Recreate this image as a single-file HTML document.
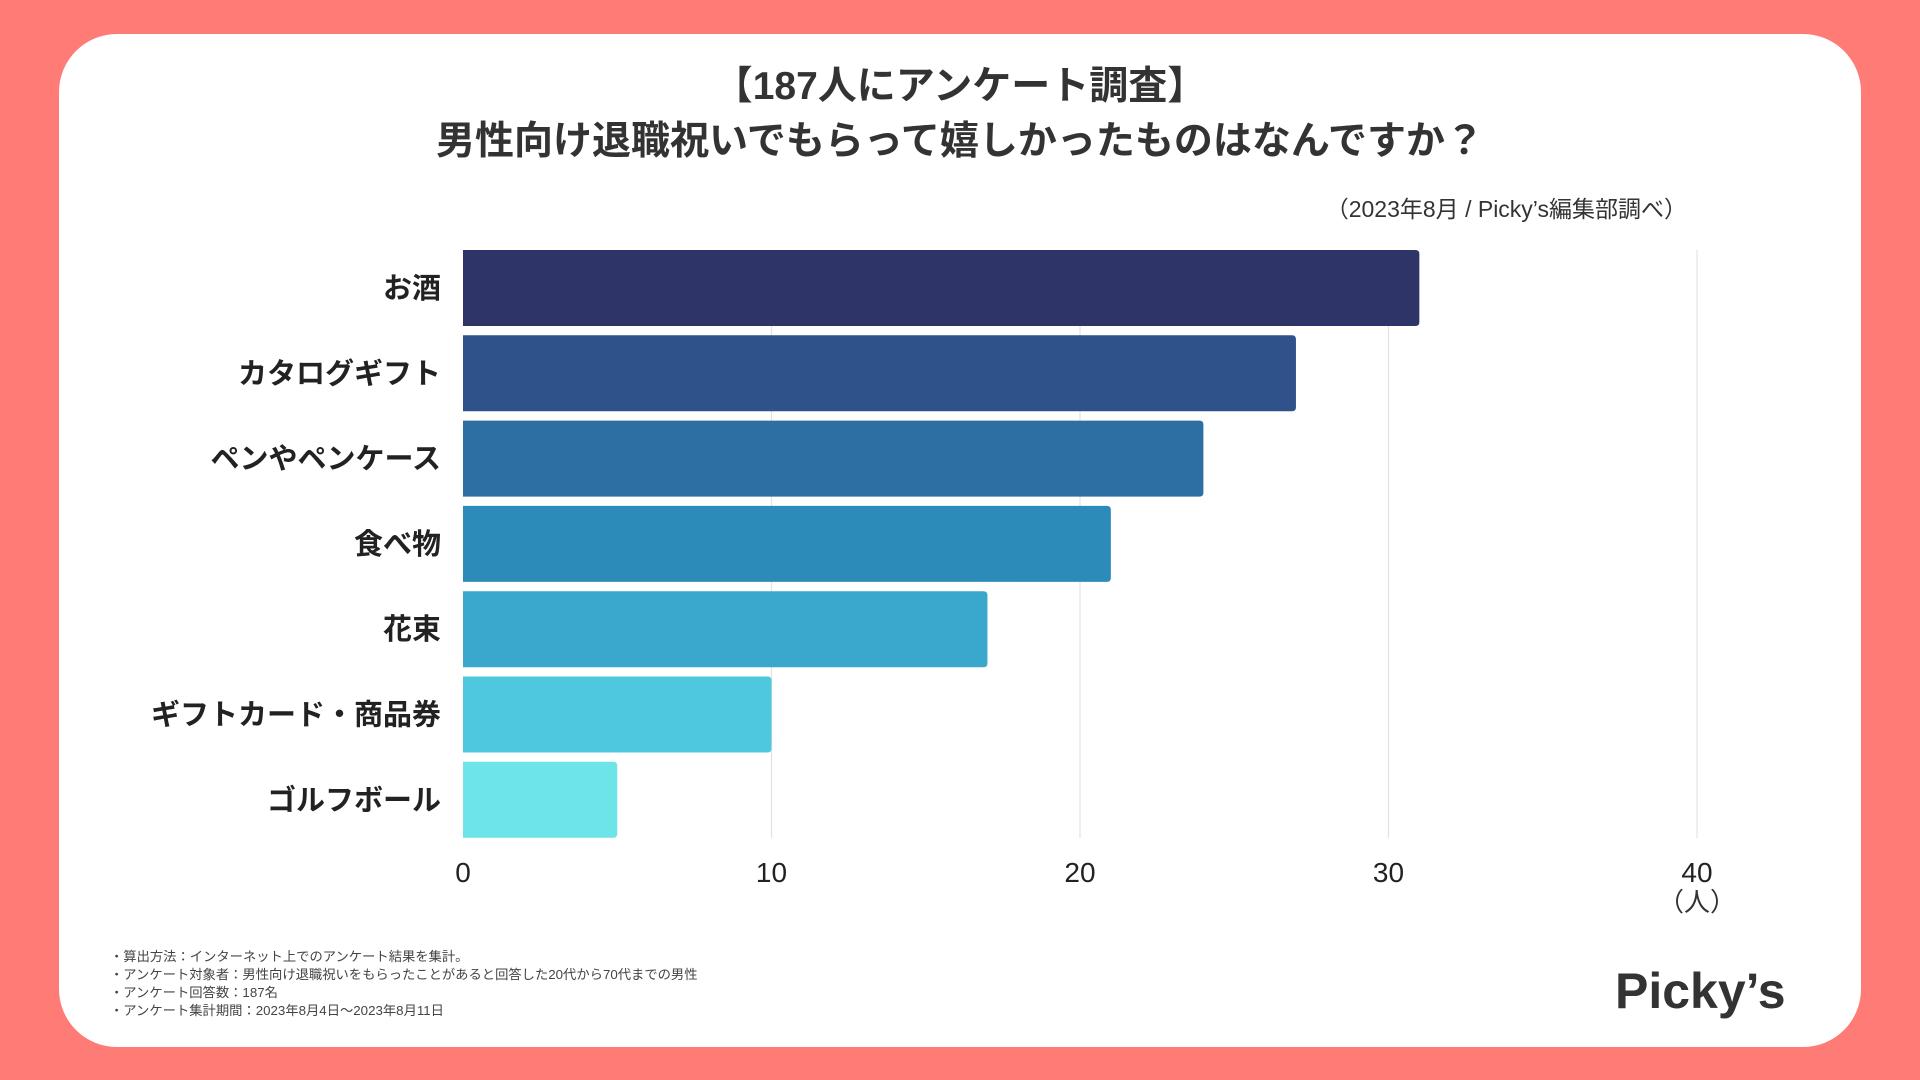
<!DOCTYPE html>
<html><head><meta charset="utf-8">
<style>
html,body{margin:0;padding:0;}
body{width:1920px;height:1080px;background:#FF7B75;position:relative;overflow:hidden;font-family:"Liberation Sans","Noto Sans CJK JP",sans-serif;color:#333;}
#card{position:absolute;left:59px;top:34px;width:1802px;height:1013px;background:#fff;border-radius:58px;}
.t{position:absolute;white-space:nowrap;}
</style></head><body>
<div id="card"></div>
<div class="t" style="left:0;width:1920px;text-align:center;top:55px;font-size:39px;font-weight:bold;">【187人にアンケート調査】</div>
<div class="t" style="left:0;width:1920px;text-align:center;top:110px;font-size:39px;font-weight:bold;">男性向け退職祝いでもらって嬉しかったものはなんですか？</div>
<div class="t" style="right:233px;top:190px;font-size:23px;">（2023年8月 / Picky’s編集部調べ）</div>
<svg id="chart" width="1920" height="1080" style="position:absolute;left:0;top:0;"></svg>
<div class="t" style="left:110px;top:948px;font-size:13.3px;line-height:18px;color:#444;">・算出方法：インターネット上でのアンケート結果を集計。<br>・アンケート対象者：男性向け退職祝いをもらったことがあると回答した20代から70代までの男性<br>・アンケート回答数：187名<br>・アンケート集計期間：2023年8月4日〜2023年8月11日</div>
<div class="t" style="left:1615px;top:962px;font-size:50px;font-weight:bold;color:#333;">Picky’s</div>
<script>
const categories=["お酒","カタログギフト","ペンやペンケース","食べ物","花束","ギフトカード・商品券","ゴルフボール"];
const values=[31,27,24,21,17,10,5];
const colors=["#2E3468","#30528A","#2D6FA3","#2D8BBA","#3AA8CC","#4EC8DC","#6DE4E8"];
const ticks=[0,10,20,30,40];
const NS="http://www.w3.org/2000/svg";
const svg=document.getElementById('chart');
const x0=463,x1=1697,vmax=40,top0=250,pitch=85.3,bh=76,gTop=250,gBot=838;
function xs(v){return x0+(v/vmax)*(x1-x0);}
function ys(i){return top0+i*pitch;}
function mk(t,a){const e=document.createElementNS(NS,t);for(const k in a)e.setAttribute(k,a[k]);svg.appendChild(e);return e;}
ticks.forEach(t=>{
 if(t>0){const l=mk('line',{x1:xs(t),x2:xs(t),y1:gTop,y2:gBot,stroke:'#e2e2e2','stroke-width':1.2});
 
 }
 const tx=mk('text',{x:xs(t),y:882,'text-anchor':'middle','font-size':28,fill:'#222','font-family':'Liberation Sans, sans-serif'});
 tx.textContent=t;
 
 
});
const unit=mk('text',{x:xs(40),y:911,'text-anchor':'middle','font-size':26,fill:'#333','font-family':'Liberation Sans, Noto Sans CJK JP, sans-serif'});
unit.textContent='（人）';


categories.forEach((c,i)=>{
 const w=xs(values[i])-x0,y=ys(i),r=4;
 const p=mk('path',{d:`M${x0} ${y} H${x0+w-r} Q${x0+w} ${y} ${x0+w} ${y+r} V${y+bh-r} Q${x0+w} ${y+bh} ${x0+w-r} ${y+bh} H${x0} Z`,fill:colors[i]});
 
 
 const lb=mk('text',{x:441,y:y+bh/2+10,'text-anchor':'end','font-size':29,'font-weight':'bold',fill:'#222','font-family':'Liberation Sans, Noto Sans CJK JP, sans-serif'});
 lb.textContent=c;
 
 
});
</script>
</body></html>
